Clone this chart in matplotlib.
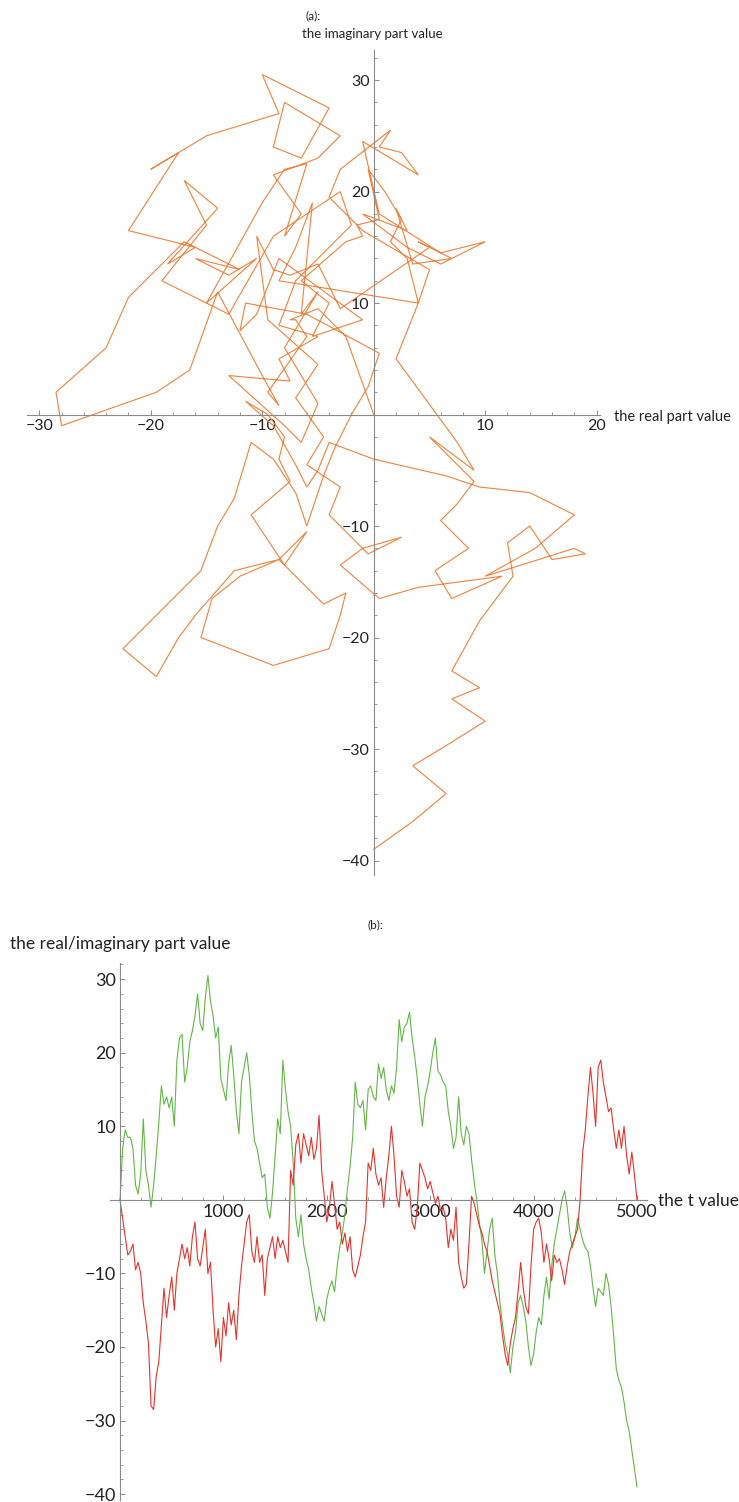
import numpy as np
import matplotlib
matplotlib.use("Agg")
import matplotlib.pyplot as plt
from matplotlib.ticker import MultipleLocator, FixedLocator

plt.rcParams['font.family'] = ['Lato', 'DejaVu Sans']

W, H = 739, 1502

# sampled walk, every 25 steps of t
t_step = 25
real_part = [
    0, -2.5, -5, -7.5, -7, -6, -9.5, -8.5, -10, -14,
    -16.5, -19.5, -28, -28.5, -24, -22, -17, -12, -16, -13,
    -10.5, -15, -10, -8, -6, -8, -6.5, -9, -5, -3,
    -8, -9, -6.5, -4, -10, -8.5, -15, -20, -17.5, -22,
    -16, -18.5, -14, -17, -15, -19, -13, -9, -6, -3,
    -2, -7, -8.5, -5, -8.5, -7.5, -13, -8, -6.5, -5,
    -8, -5, -6.5, -5.5, -7, -8.5, 4, 2, 7.5, 9,
    5, 9, 7.5, 6, 8.5, 5.5, 7, 11.5, 4, 0.5,
    -3, -1, 2.5, -0.5, -4, -3, -6, -4.5, -7, -5,
    -9.5, -10.5, -9, -7.5, -5, -3, 5, 4, 7, 3.5,
    2, 3, -1, 3, 6, 10, 6, 0.5, -1, 4,
    2.5, 0.5, 1.5, -3, -4, -1, 5, 4, 3, 1.5,
    2.5, 1, -0.5, 0.5, -1.5, -1, -2.5, -6.5, -4, -5.5,
    -1, -8.5, -10.5, -12, -11.5, -6, 0.5, -0.5, -2, -3.5,
    -4.5, -6, -7, -9, -11, -12.5, -14, -15.5, -18.5, -21,
    -22.5, -19.5, -17.5, -16, -12.5, -8.5, -12, -14.5, -15.5, -9,
    -4, -3, -2.5, -4.5, -8.5, -6, -8, -11, -7.5, -8.5,
    -8, -9.5, -11.5, -9, -7, -6, -5, -4, 0, 6.5,
    9.5, 14, 18, 14.5, 10, 18, 19, 16, 14, 12,
    12.5, 9.5, 7, 9.5, 7, 10, 6, 3.5, 6.5, 3.5,
    0,
]
imag_part = [
    0, 7, 9.5, 8.5, 8.5, 7, 2, 0.8, 3.5, 11,
    4, 2, -1, 2, 6, 10.5, 15.5, 13, 14, 12.5,
    14, 10, 19, 22, 22.5, 16, 18, 21.5, 23, 25,
    28, 24, 23, 27.5, 30.5, 27, 25, 22, 23.5, 16.5,
    15, 13.5, 18.5, 21, 17, 12, 9, 16, 18, 20,
    17, 12, 8, 7, 5, 3, 3.5, -1, -2.5, 1,
    6, 11, 9, 19, 15, 12, 10, 5, -2.5, -5,
    -2, -6, -8, -9.5, -12, -14, -16.5, -14.5, -15.5, -16.5,
    -13.5, -12, -11, -12.5, -9, -6.5, -4.5, -2, 1.5, 4.5,
    8.5, 16, 13, 12.5, 13.5, 9.5, 15, 15.5, 14, 13.5,
    18.5, 16.5, 18, 15, 13.5, 15.5, 14.5, 18, 24.5, 21.5,
    23.5, 24, 25.5, 22, 19.5, 16.5, 13, 10, 14, 15.5,
    17.5, 20, 22, 17.5, 17, 16, 15.5, 12, 10, 7,
    8.5, 14, 9, 7.5, 10, 9, 5.5, 2.5, 0, -3,
    -5.5, -10, -7, -4, -2.5, -7.5, -10, -14, -17, -19.5,
    -21, -23.5, -20, -18, -14, -13, -14.5, -16.5, -20, -22.5,
    -21, -18, -16, -17, -13, -10.5, -13.5, -9, -6, -4,
    -2, 0, 1.2, -1, -4.5, -6.5, -5, -2.5, -4, -5.5,
    -6.5, -7, -9, -12, -14.5, -12, -12.5, -13, -10, -11.5,
    -14.5, -18.5, -23, -24.5, -25.5, -27.5, -30, -31.5, -34, -36.5,
    -39,
]
t_values = np.arange(len(real_part)) * t_step

ticks_a_x = [-30, -20, -10, 10, 20]
ticks_a_y = [-40, -30, -20, -10, 10, 20, 30]
ticks_b_x = [1000, 2000, 3000, 4000, 5000]
ticks_b_y = [-40, -30, -20, -10, 10, 20, 30]

ORANGE = '#f0813f'
RED = '#e4332b'
GREEN = '#62b646'
AXIS_GREY = '#8a8a8a'


def px_axes(fig, left, top, right, bottom):
    # pixel box (from top-left) -> figure fraction
    return fig.add_axes([left / W, 1 - bottom / H, (right - left) / W, (bottom - top) / H])


def style_axes(ax, xmin, ymin, xlabels, ylabels, fs):
    for side in ('top', 'right'):
        ax.spines[side].set_visible(False)
    for side in ('left', 'bottom'):
        ax.spines[side].set_position(('data', 0))
        ax.spines[side].set_color(AXIS_GREY)
        ax.spines[side].set_linewidth(0.8)
    ax.xaxis.set_major_locator(FixedLocator(xlabels))
    ax.xaxis.set_minor_locator(MultipleLocator(xmin))
    ax.yaxis.set_major_locator(FixedLocator(ylabels))
    ax.yaxis.set_minor_locator(MultipleLocator(ymin))
    ax.set_xticklabels([f"{v:g}".replace('-', '\u2212') for v in xlabels])
    ax.set_yticklabels([f"{v:g}".replace('-', '\u2212') for v in ylabels])
    ax.tick_params(which='major', direction='in', length=3.5, width=0.7,
                   color=AXIS_GREY, labelsize=fs, labelcolor='#222222', pad=3)
    ax.tick_params(which='minor', direction='in', length=2, width=0.6, color=AXIS_GREY)
    ax.patch.set_alpha(0)


fig = plt.figure(figsize=(W / 100, H / 100), dpi=100)

# (a) imaginary part against real part
ax_a = px_axes(fig, 27, 50, 600, 875)
ax_a.plot(real_part, imag_part, color=ORANGE, lw=0.8, solid_joinstyle='miter')
ax_a.set_xlim(-31.1, 20.3)
ax_a.set_ylim(-41.3, 32.7)
style_axes(ax_a, 2, 2, ticks_a_x, ticks_a_y, 11.5)

fig.text(306 / W, 1 - 16 / H, '(a):', fontsize=8.5, color='#222222', va='center')
fig.text(302 / W, 1 - 34 / H, 'the imaginary part value', fontsize=9.5, color='#222222', va='center')
fig.text(614 / W, 1 - 417 / H, 'the real part value', fontsize=10.5, color='#222222', va='center')

# (b) both parts against t
ax_b = px_axes(fig, 110, 963, 647, 1500)
ax_b.plot(t_values, imag_part, color=GREEN, lw=0.8)
ax_b.plot(t_values, real_part, color=RED, lw=0.8)
ax_b.set_xlim(-97, 5097)
ax_b.set_ylim(-40.8, 32.2)
style_axes(ax_b, 200, 2, ticks_b_x, ticks_b_y, 13)

fig.text(368 / W, 1 - 925 / H, '(b):', fontsize=8.5, color='#222222', va='center')
fig.text(10 / W, 1 - 944 / H, 'the real/imaginary part value', fontsize=12.5, color='#222222', va='center')
fig.text(658 / W, 1 - 1201 / H, 'the t value', fontsize=12.5, color='#222222', va='center')

fig.savefig('out.png', dpi=100, facecolor='white')
